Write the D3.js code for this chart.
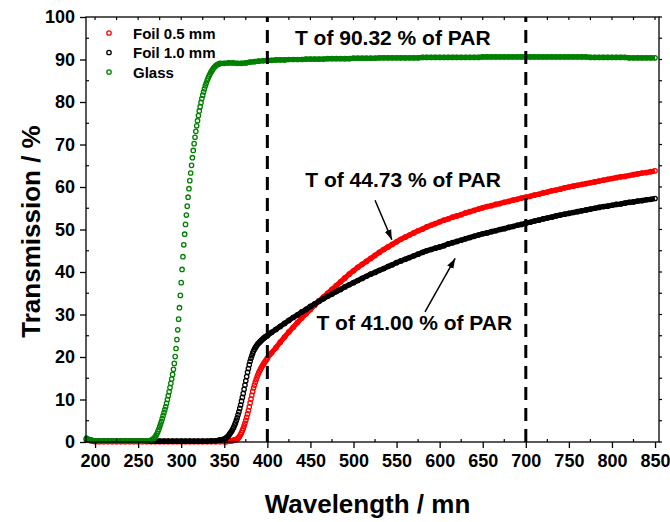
<!DOCTYPE html>
<html>
<head>
<meta charset="utf-8">
<script src="https://cdn.jsdelivr.net/npm/d3@7"></script>
<style>
body { margin: 0; background: #fff; }
text { font-family: "Liberation Sans", Arial, sans-serif; font-weight: bold; fill: #000; }
</style>
</head>
<body>
<svg id="chart" width="670" height="522"></svg>
<script>
// wavelength grids (nm): coarse in flat parts, 1 nm where the curves rise
const foilNm = [].concat(d3.range(190, 350, 5), d3.range(350, 400, 1), d3.range(400, 851, 5));
const glassNm = [].concat(d3.range(190, 266, 5), d3.range(266, 346, 1), d3.range(350, 851, 5));

// transmission (%)
const foil05 = [
  0.5, 0.3, 0.1, 0.1, 0.1, 0.1, 0.1, 0.1, 0.1, 0.1, 0.1, 0.1, 0.1, 0.1, 0.1, 0.1,
  0.1, 0.1, 0.1, 0.1, 0.1, 0.1, 0.1, 0.1, 0.1, 0.1, 0.1, 0.1, 0.1, 0.1, 0.1, 0.1,
  0.1, 0.1, 0.1, 0.1, 0.2, 0.2, 0.2, 0.3, 0.3, 0.3,
  0.4, 0.4, 0.5, 0.5, 0.6, 0.7, 0.9, 1.1, 1.4, 1.8,
  2.2, 2.7, 3.2, 3.8, 4.4, 5.1, 5.8, 6.6, 7.4, 8.3,
  9.2, 10.1, 11.0, 11.9, 12.7, 13.4, 14.1, 14.7, 15.3, 15.8,
  16.3, 16.7, 17.1, 17.5, 17.8, 18.2, 18.5, 18.8, 19.1, 19.4,
  19.7, 21.0, 22.2, 23.5, 24.7, 25.9, 27.0, 28.1, 29.2, 30.2,
  31.2, 32.2, 33.2, 34.1, 35.0, 35.9, 36.8, 37.7, 38.6, 39.5,
  40.3, 41.1, 41.8, 42.5, 43.2, 43.9, 44.6, 45.3, 45.9, 46.5,
  47.1, 47.7, 48.2, 48.7, 49.2, 49.7, 50.1, 50.6, 51.0, 51.4,
  51.8, 52.2, 52.5, 52.9, 53.2, 53.5, 53.9, 54.2, 54.5, 54.8,
  55.1, 55.4, 55.6, 55.9, 56.1, 56.4, 56.6, 56.9, 57.1, 57.4,
  57.6, 57.8, 58.1, 58.3, 58.6, 58.8, 59.1, 59.3, 59.5, 59.8,
  60.0, 60.2, 60.4, 60.6, 60.8, 61.0, 61.2, 61.4, 61.6, 61.8,
  62.0, 62.2, 62.4, 62.5, 62.7, 62.9, 63.1, 63.3, 63.4, 63.6,
  63.8
];
const foil10 = [
  0.7, 0.4, 0.2, 0.2, 0.2, 0.2, 0.2, 0.2, 0.2, 0.2, 0.2, 0.2, 0.2, 0.2, 0.2, 0.2,
  0.2, 0.2, 0.2, 0.2, 0.2, 0.2, 0.2, 0.2, 0.2, 0.2, 0.2, 0.2, 0.2, 0.3, 0.3, 0.5,
  0.7, 0.8, 0.9, 1.1, 1.3, 1.5, 1.8, 2.1, 2.4, 2.7,
  3.1, 3.5, 4.0, 4.5, 5.1, 5.7, 6.4, 7.1, 7.9, 8.7,
  9.6, 10.5, 11.4, 12.4, 13.4, 14.4, 15.4, 16.4, 17.3, 18.2,
  19.0, 19.7, 20.3, 20.9, 21.4, 21.8, 22.2, 22.5, 22.8, 23.1,
  23.3, 23.5, 23.7, 23.9, 24.1, 24.3, 24.5, 24.6, 24.8, 24.9,
  25.0, 25.8, 26.5, 27.2, 27.9, 28.6, 29.3, 29.9, 30.6, 31.2,
  31.9, 32.5, 33.1, 33.7, 34.3, 34.8, 35.4, 35.9, 36.5, 37.0,
  37.5, 38.0, 38.5, 39.0, 39.5, 39.9, 40.4, 40.8, 41.3, 41.7,
  42.2, 42.6, 43.0, 43.4, 43.8, 44.2, 44.6, 45.0, 45.3, 45.6,
  45.9, 46.2, 46.6, 46.9, 47.2, 47.5, 47.8, 48.1, 48.4, 48.7,
  49.0, 49.2, 49.5, 49.7, 50.0, 50.2, 50.5, 50.7, 51.0, 51.2,
  51.5, 51.7, 52.0, 52.2, 52.5, 52.7, 52.9, 53.2, 53.4, 53.6,
  53.8, 54.0, 54.2, 54.4, 54.6, 54.8, 55.0, 55.2, 55.4, 55.5,
  55.7, 55.9, 56.0, 56.2, 56.4, 56.5, 56.7, 56.8, 57.0, 57.1,
  57.3
];
const glass = [
  0.9, 0.5, 0.3, 0.2, 0.2, 0.2, 0.2, 0.2, 0.2, 0.2, 0.2, 0.2, 0.2, 0.2, 0.3, 0.4,
  0.5, 0.6, 0.8, 1.0, 1.3, 1.6, 2.0, 2.5, 3.0, 3.6,
  4.2, 4.8, 5.5, 6.2, 6.9, 7.6, 8.3, 9.1, 10.0, 10.9,
  11.8, 12.8, 13.8, 14.8, 15.9, 17.1, 18.5, 20.1, 22.0, 24.1,
  26.4, 28.9, 31.6, 34.5, 37.5, 40.6, 43.6, 46.4, 48.9, 51.2,
  53.4, 55.5, 57.6, 59.6, 61.5, 63.3, 65.1, 66.9, 68.6, 70.2,
  71.7, 73.1, 74.4, 75.6, 76.8, 77.9, 78.9, 79.9, 80.8, 81.6,
  82.4, 83.1, 83.8, 84.4, 85.0, 85.5, 86.0, 86.4, 86.8, 87.2,
  87.5, 87.8, 88.1, 88.3, 88.5, 88.7, 88.8, 88.9, 89.0, 89.1,
  89.1, 89.2, 89.2, 89.1, 89.1, 89.2, 89.4, 89.5, 89.6, 89.7,
  89.8, 89.8, 89.9, 89.9, 89.9, 90.0, 90.0, 90.0, 90.0, 90.1,
  90.1, 90.1, 90.1, 90.1, 90.2, 90.2, 90.2, 90.2, 90.2, 90.2,
  90.3, 90.3, 90.3, 90.3, 90.3, 90.3, 90.4, 90.4, 90.4, 90.4,
  90.4, 90.4, 90.4, 90.4, 90.4, 90.4, 90.5, 90.5, 90.5, 90.5,
  90.5, 90.5, 90.5, 90.5, 90.5, 90.5, 90.5, 90.5, 90.5, 90.5,
  90.6, 90.6, 90.6, 90.6, 90.6, 90.6, 90.6, 90.6, 90.6, 90.6,
  90.6, 90.6, 90.6, 90.6, 90.6, 90.6, 90.6, 90.6, 90.6, 90.6,
  90.6, 90.6, 90.6, 90.6, 90.6, 90.5, 90.5, 90.5, 90.5, 90.5,
  90.5, 90.5, 90.5, 90.5, 90.4, 90.4, 90.4, 90.4, 90.4, 90.4,
  90.4
];

const seriesNames = ['Foil 0.5 mm', 'Foil 1.0 mm', 'Glass'];
const seriesColors = ['#ff0000', '#000000', '#008000'];
const xTicks = d3.range(200, 851, 50);
const yTicks = d3.range(0, 101, 10);
const parLimits = [400, 700];

// labels: [text, nm, T%] (start of text, baseline)
const notes = [
  ['T of 90.32 % of PAR', 432, 93.4],
  ['T of 44.73 % of PAR', 444, 60.1],
  ['T of 41.00 % of PAR', 457, 26.4]
];
// arrows: [nm0, T0, nm1, T1] tail -> head
const arrows = [
  [525, 56.9, 544.5, 47.6],
  [583, 30.6, 618, 43.2]
];

const svg = d3.select('#chart');
const x = d3.scaleLinear().domain([189.5, 854.6]).range([86, 659]);
const y = d3.scaleLinear().domain([0, 100]).range([442, 17]);

const grids = [foilNm, foilNm, glassNm];
const data = [
  d3.zip(foilNm, foil05),
  d3.zip(foilNm, foil10),
  d3.zip(glassNm, glass)
];
if (foilNm.length !== foil05.length || foilNm.length !== foil10.length || glassNm.length !== glass.length) {
  console.log('length mismatch', foilNm.length, foil05.length, foil10.length, glassNm.length, glass.length);
}

// the 5 nm stretches are so dense in the original that the circles merge
// into a solid band: draw that band under the markers there
data.forEach(function(d, i) {
  const nm = grids[i];
  const band = d3.line()
    .defined(function(p, j) {
      return (j < nm.length - 1 && nm[j + 1] - nm[j] >= 5) || (j > 0 && nm[j] - nm[j - 1] >= 5);
    })
    .x(function(p) { return x(p[0]); })
    .y(function(p) { return y(p[1]); });
  svg.append('path')
    .attr('d', band(d))
    .attr('fill', 'none')
    .attr('stroke', seriesColors[i])
    .attr('stroke-width', 5.2)
    .attr('stroke-linejoin', 'round');
  svg.append('g')
    .selectAll('circle')
    .data(d)
    .enter().append('circle')
    .attr('cx', function(p) { return x(p[0]); })
    .attr('cy', function(p) { return y(p[1]); })
    .attr('r', 2.2)
    .attr('fill', 'none')
    .attr('stroke', seriesColors[i])
    .attr('stroke-width', 1.3);
});

// PAR limits
svg.append('g').selectAll('line')
  .data(parLimits)
  .enter().append('line')
  .attr('x1', function(d) { return x(d); })
  .attr('x2', function(d) { return x(d); })
  .attr('y1', y(0))
  .attr('y2', y(100))
  .attr('stroke', '#000')
  .attr('stroke-width', 3)
  .attr('stroke-dasharray', '13,8');

// axes
const bottom = svg.append('g')
  .attr('transform', 'translate(0,' + y(0) + ')')
  .call(d3.axisBottom(x).tickValues(xTicks).tickSize(6).tickPadding(6).tickSizeOuter(0));
const left = svg.append('g')
  .attr('transform', 'translate(' + x.range()[0] + ',0)')
  .call(d3.axisLeft(y).tickValues(yTicks).tickSize(6).tickPadding(5).tickSizeOuter(0));
[bottom, left].forEach(function(a) {
  a.select('.domain').remove();
  a.selectAll('.tick line').attr('stroke-width', 1.3);
  a.selectAll('.tick text').attr('font-size', 18).attr('font-family', null);
});

// minor / mirrored ticks
const minorX = d3.range(225, 851, 50);
svg.append('g').selectAll('line').data(minorX).enter().append('line')
  .attr('x1', function(d) { return x(d); }).attr('x2', function(d) { return x(d); })
  .attr('y1', y(0)).attr('y2', y(0) - 3)
  .attr('stroke', '#000').attr('stroke-width', 1.2);
svg.append('g').selectAll('line').data(d3.range(200, 851, 25)).enter().append('line')
  .attr('x1', function(d) { return x(d); }).attr('x2', function(d) { return x(d); })
  .attr('y1', y(100)).attr('y2', y(100) + 3)
  .attr('stroke', '#000').attr('stroke-width', 1.2);
svg.append('g').selectAll('line').data(d3.range(5, 100, 10)).enter().append('line')
  .attr('x1', x.range()[0]).attr('x2', x.range()[0] + 3)
  .attr('y1', function(d) { return y(d); }).attr('y2', function(d) { return y(d); })
  .attr('stroke', '#000').attr('stroke-width', 1.2);
svg.append('g').selectAll('line').data(d3.range(0, 101, 5)).enter().append('line')
  .attr('x1', x.range()[1]).attr('x2', x.range()[1] + 3)
  .attr('y1', function(d) { return y(d); }).attr('y2', function(d) { return y(d); })
  .attr('stroke', '#000').attr('stroke-width', 1.2);

// frame
svg.append('rect')
  .attr('x', x.range()[0]).attr('y', y(100))
  .attr('width', x.range()[1] - x.range()[0])
  .attr('height', y(0) - y(100))
  .attr('fill', 'none').attr('stroke', '#000').attr('stroke-width', 1.3);

// axis titles
svg.append('text')
  .attr('x', (x.range()[0] + x.range()[1]) / 2 - 5)
  .attr('y', 513)
  .attr('text-anchor', 'middle')
  .attr('font-size', 26)
  .text('Wavelength / mn');
svg.append('text')
  .attr('transform', 'translate(40,' + ((y(0) + y(100)) / 2 + 2) + ') rotate(-90)')
  .attr('text-anchor', 'middle')
  .attr('font-size', 26)
  .text('Transmission / %');

// legend
const legend = svg.append('g');
seriesNames.forEach(function(name, i) {
  const ly = 33 + i * 19.5;
  legend.append('circle')
    .attr('cx', 109).attr('cy', ly).attr('r', 2.2)
    .attr('fill', 'none').attr('stroke', seriesColors[i]).attr('stroke-width', 1.3);
  legend.append('text')
    .attr('x', 133).attr('y', ly + 5.5)
    .attr('font-size', 15)
    .text(name);
});

// annotations
svg.append('defs').append('marker')
  .attr('id', 'head')
  .attr('viewBox', '0 0 10 10')
  .attr('refX', 10).attr('refY', 5)
  .attr('markerWidth', 10).attr('markerHeight', 10)
  .attr('markerUnits', 'userSpaceOnUse')
  .attr('orient', 'auto')
  .append('path')
  .attr('d', 'M0,1.5 L10,5 L0,8.5 Z')
  .attr('fill', '#000');

svg.append('g').selectAll('line')
  .data(arrows)
  .enter().append('line')
  .attr('x1', function(d) { return x(d[0]); })
  .attr('y1', function(d) { return y(d[1]); })
  .attr('x2', function(d) { return x(d[2]); })
  .attr('y2', function(d) { return y(d[3]); })
  .attr('stroke', '#000')
  .attr('stroke-width', 1.5)
  .attr('marker-end', 'url(#head)');

svg.append('g').selectAll('text')
  .data(notes)
  .enter().append('text')
  .attr('x', function(d) { return x(d[1]); })
  .attr('y', function(d) { return y(d[2]); })
  .attr('font-size', 21)
  .text(function(d) { return d[0]; });
</script>
</body>
</html>
